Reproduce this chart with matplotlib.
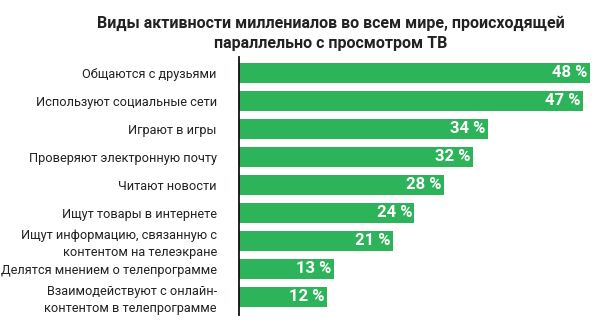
import matplotlib
matplotlib.use("Agg")
import matplotlib.pyplot as plt

plt.rcParams['font.family'] = ['Roboto', 'DejaVu Sans']

categories = [
    "Общаются с друзьями",
    "Используют социальные сети",
    "Играют в игры",
    "Проверяют электронную почту",
    "Читают новости",
    "Ищут товары в интернете",
    "Ищут информацию, связанную с\nконтентом на телеэкране",
    "Делятся мнением о телепрограмме",
    "Взаимодействуют с онлайн-\nконтентом в телепрограмме",
]
values = [48, 47, 34, 32, 28, 24, 21, 13, 12]
title = "Виды активности миллениалов во всем мире, происходящей\nпараллельно с просмотром ТВ"

green = "#2db45a"

fig = plt.figure(figsize=(6.02, 3.28), dpi=100)
ax = fig.add_axes([0.397, 0.040, 0.600, 0.786])

pos = list(range(len(values)))
ax.barh(pos, values, height=0.71, color=green)
ax.set_ylim(8.65, -0.56)
ax.set_xlim(0, 49.4)

# value labels inside the bar ends
for p, v in zip(pos, values):
    ax.text(v - 0.3, p, f"{v} %", ha='right', va='center', color='white',
            fontsize=12, fontweight='bold')

ax.set_yticks(pos)
ax.set_yticklabels(categories, fontsize=9.2, color='#222222', linespacing=1.35)
ax.tick_params(axis='y', length=0, pad=16)
ax.set_xticks([])
for s in ['top', 'right', 'bottom']:
    ax.spines[s].set_visible(False)
ax.spines['left'].set_linewidth(1.3)
ax.spines['left'].set_color('#111111')

fig.text(0.55, 0.898, title, ha='center', va='center', fontsize=11.5,
         fontweight='bold', color='#222222', linespacing=1.45)

fig.savefig("out.png", dpi=100)
